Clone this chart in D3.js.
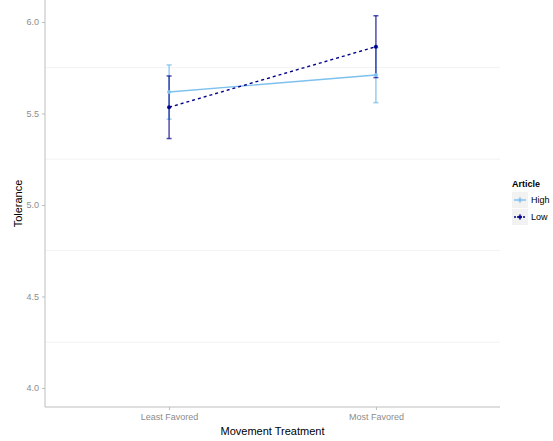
<!DOCTYPE html>
<html>
<head>
<meta charset="utf-8">
<script src="https://cdn.jsdelivr.net/npm/d3@7"></script>
<style>
  body { margin: 0; background: #fff; }
  text { font-family: "Liberation Sans", Arial, sans-serif; }
</style>
</head>
<body>
<svg id="chart" width="553" height="441"></svg>
<script>
// Treatment levels on the x axis
const treatments = ["Least Favored", "Most Favored"];
// Article groups drawn as separate lines
const articles = ["High", "Low"];
// Mean tolerance per article group, in treatment order
const highMeans = [5.617, 5.71];
const lowMeans = [5.534, 5.865];
// Error-bar half widths
const highErr = [0.148, 0.151];
const lowErr = [0.171, 0.169];
// Y tick labels
const yTicks = [4.0, 4.5, 5.0, 5.5, 6.0];
const yMinor = [4.25, 4.75, 5.25, 5.75];

const colors = { High: "#7ec0ee", Low: "#00008b" };
const errColors = { High: "rgba(126,192,238,0.8)", Low: "rgba(20,20,150,0.75)" };

const series = [
  { key: "High", means: highMeans, err: highErr, dash: null },
  { key: "Low", means: lowMeans, err: lowErr, dash: "3,3" }
];

const svg = d3.select("#chart");
const margin = { left: 45, right: 53, top: 0, bottom: 34 };
const W = 553, H = 441;
const plotR = W - margin.right, plotB = H - margin.bottom;

const y = d3.scaleLinear().domain([3.896, 6.12]).range([plotB, margin.top]);
const x = d3.scalePoint().domain(treatments).range([margin.left, plotR]).padding(0.6);

// Minor horizontal grid lines
svg.append("g").selectAll("line").data(yMinor).join("line")
  .attr("x1", margin.left).attr("x2", plotR)
  .attr("y1", d => y(d)).attr("y2", d => y(d))
  .attr("stroke", "#f2f2f2").attr("stroke-width", 1);

// Axes
const yAxis = svg.append("g").attr("transform", `translate(${margin.left},0)`)
  .call(d3.axisLeft(y).tickValues(yTicks).tickFormat(d3.format(".1f")).tickSize(3).tickPadding(3));
const xAxis = svg.append("g").attr("transform", `translate(0,${plotB})`)
  .call(d3.axisBottom(x).tickSize(3).tickPadding(4));
[yAxis, xAxis].forEach(g => {
  g.select(".domain").attr("stroke", "#bdbdbd");
  g.selectAll(".tick line").attr("stroke", "#bdbdbd");
  g.selectAll(".tick text").attr("fill", "#8c8c8c").attr("font-size", 9);
});
yAxis.select(".domain").attr("d", `M0,${plotB}V${margin.top}`);
xAxis.select(".domain").attr("d", `M${margin.left},0H${plotR}`);

// Axis titles
svg.append("text").attr("x", (margin.left + plotR) / 2).attr("y", 435)
  .attr("text-anchor", "middle").attr("font-size", 11).attr("fill", "#000")
  .text("Movement Treatment");
svg.append("text").attr("transform", `translate(22,${(plotB + margin.top) / 2}) rotate(-90)`)
  .attr("text-anchor", "middle").attr("font-size", 11).attr("fill", "#000")
  .text("Tolerance");

const line = d3.line().x((d, i) => x(treatments[i])).y(d => y(d));

// Error bars
series.forEach(s => {
  const g = svg.append("g");
  s.means.forEach((m, i) => {
    const cx = x(treatments[i]);
    const t = y(m + s.err[i]), b = y(m - s.err[i]);
    g.append("line").attr("x1", cx).attr("x2", cx).attr("y1", t).attr("y2", b)
      .attr("stroke", errColors[s.key]).attr("stroke-width", 1.5);
    [t, b].forEach(v => g.append("line").attr("x1", cx - 2.5).attr("x2", cx + 2.5)
      .attr("y1", v).attr("y2", v).attr("stroke", errColors[s.key]).attr("stroke-width", 1.5));
  });
});

// Lines and points
series.forEach(s => {
  svg.append("path").attr("d", line(s.means)).attr("fill", "none")
    .attr("stroke", colors[s.key]).attr("stroke-width", 1.4)
    .attr("stroke-dasharray", s.dash);
  svg.append("g").selectAll("circle").data(s.means).join("circle")
    .attr("cx", (d, i) => x(treatments[i])).attr("cy", d => y(d))
    .attr("r", 2).attr("fill", colors[s.key]);
});

// Legend
const lg = svg.append("g").attr("transform", "translate(512,0)");
lg.append("text").attr("x", 0).attr("y", 187).attr("font-size", 9).attr("font-weight", "bold").text("Article");
series.forEach((s, i) => {
  const ky = 192 + i * 17;
  lg.append("rect").attr("x", 0).attr("y", ky).attr("width", 16).attr("height", 16).attr("fill", "#f2f2f2");
  lg.append("line").attr("x1", 2).attr("x2", 14).attr("y1", ky + 8).attr("y2", ky + 8)
    .attr("stroke", colors[s.key]).attr("stroke-width", 1.4).attr("stroke-dasharray", s.dash ? "2,1" : null);
  lg.append("line").attr("x1", 8).attr("x2", 8).attr("y1", ky + 5).attr("y2", ky + 11)
    .attr("stroke", errColors[s.key]).attr("stroke-width", 1.2);
  lg.append("circle").attr("cx", 8).attr("cy", ky + 8).attr("r", 1.8).attr("fill", colors[s.key]);
  lg.append("text").attr("x", 19).attr("y", ky + 11).attr("font-size", 9).text(s.key);
});
</script>
</body>
</html>
